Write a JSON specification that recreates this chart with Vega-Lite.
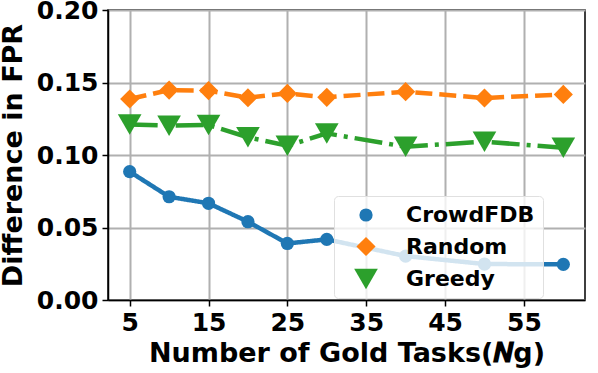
{
  "$schema": "https://vega.github.io/schema/vega-lite/v6.json",
  "width": 477,
  "height": 290,
  "autosize": {"type": "none"},
  "padding": {"left": 108, "top": 10, "right": 13, "bottom": 73},
  "background": "white",
  "config": {
    "view": {"stroke": "black", "strokeWidth": 1.5},
    "axis": {
      "labelFont": "DejaVu Sans", "labelFontWeight": "bold", "labelFontSize": 25, "labelColor": "black",
      "titleFont": "DejaVu Sans", "titleFontWeight": "bold", "titleFontSize": 27, "titleColor": "black",
      "tickColor": "black", "tickSize": 6, "tickWidth": 1.5,
      "domainColor": "black", "domainWidth": 1.5,
      "gridColor": "#b0b0b0", "gridWidth": 2, "gridOpacity": 1
    }
  },
  "data": {"values": [
    {"n": 5, "method": "CrowdFDB", "v": 0.0885},
    {"n": 10, "method": "CrowdFDB", "v": 0.0712},
    {"n": 15, "method": "CrowdFDB", "v": 0.0667},
    {"n": 20, "method": "CrowdFDB", "v": 0.054},
    {"n": 25, "method": "CrowdFDB", "v": 0.039},
    {"n": 30, "method": "CrowdFDB", "v": 0.0418},
    {"n": 40, "method": "CrowdFDB", "v": 0.0303},
    {"n": 50, "method": "CrowdFDB", "v": 0.0248},
    {"n": 60, "method": "CrowdFDB", "v": 0.0246},
    {"n": 5, "method": "Random", "v": 0.1386},
    {"n": 10, "method": "Random", "v": 0.1448},
    {"n": 15, "method": "Random", "v": 0.1444},
    {"n": 20, "method": "Random", "v": 0.1395},
    {"n": 25, "method": "Random", "v": 0.1425},
    {"n": 30, "method": "Random", "v": 0.1398},
    {"n": 40, "method": "Random", "v": 0.1437},
    {"n": 50, "method": "Random", "v": 0.1393},
    {"n": 60, "method": "Random", "v": 0.1418},
    {"n": 5, "method": "Greedy", "v": 0.1211},
    {"n": 10, "method": "Greedy", "v": 0.1202},
    {"n": 15, "method": "Greedy", "v": 0.1207},
    {"n": 20, "method": "Greedy", "v": 0.1122},
    {"n": 25, "method": "Greedy", "v": 0.1064},
    {"n": 30, "method": "Greedy", "v": 0.1149},
    {"n": 40, "method": "Greedy", "v": 0.1057},
    {"n": 50, "method": "Greedy", "v": 0.1092},
    {"n": 60, "method": "Greedy", "v": 0.105}
  ]},
  "encoding": {
    "x": {"field": "n", "type": "quantitative",
      "scale": {"domain": [2.25, 62.75], "nice": false, "zero": false},
      "axis": {"values": [5, 15, 25, 35, 45, 55], "title": "Number of Gold Tasks(𝑵g)", "labelPadding": 4, "titlePadding": 5}},
    "y": {"field": "v", "type": "quantitative",
      "scale": {"domain": [0, 0.2], "nice": false},
      "axis": {"values": [0, 0.05, 0.1, 0.15, 0.2], "format": ".2f", "title": "Difference in FPR", "labelPadding": 4, "titlePadding": 9}},
    "color": {"field": "method", "type": "nominal",
      "scale": {"domain": ["CrowdFDB", "Random", "Greedy"], "range": ["#1f77b4", "#ff7f0e", "#2ca02c"]},
      "legend": {"title": null, "orient": "none", "legendX": 226, "legendY": 186,
        "labelFont": "DejaVu Sans", "labelFontWeight": "bold", "labelFontSize": 22, "labelColor": "black",
        "fillColor": "rgba(255,255,255,0.8)", "strokeColor": "#e0e0e0", "cornerRadius": 4, "padding": 8,
        "symbolOffset": 12, "labelOffset": 28, "rowPadding": 9.5, "symbolStrokeWidth": 0}}
  },
  "layer": [
    {"mark": {"type": "line", "strokeWidth": 4.5},
     "encoding": {
       "strokeDash": {"field": "method", "type": "nominal",
         "scale": {"domain": ["CrowdFDB", "Random", "Greedy"], "range": [[1, 0], [17, 7], [28, 7, 4, 7]]},
         "legend": null}}},
    {"mark": {"type": "point", "filled": true, "opacity": 1},
     "encoding": {
       "shape": {"field": "method", "type": "nominal",
         "scale": {"domain": ["CrowdFDB", "Random", "Greedy"], "range": ["circle", "diamond", "triangle-down"]}, "legend": null},
       "size": {"field": "method", "type": "nominal",
         "scale": {"domain": ["CrowdFDB", "Random", "Greedy"], "range": [175, 560, 260]}, "legend": null}}}
  ]
}
